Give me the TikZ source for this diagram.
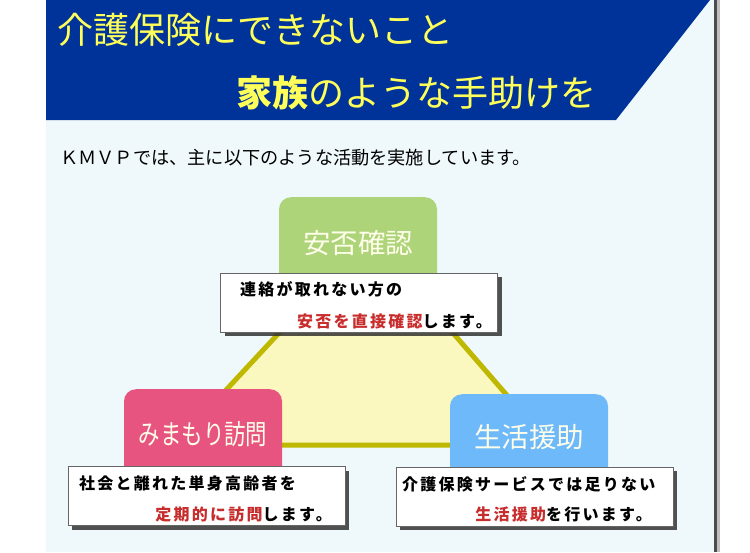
\documentclass[tikz,border=0pt]{standalone}
\usepackage{fontspec}
\usepackage{xcolor}
\usetikzlibrary{positioning,shadows}
\newfontfamily\jpfont{Noto Sans CJK JP}
\newfontfamily\notefont{Noto Sans CJK JP}[LetterSpace=14]
\definecolor{bannerclr}{RGB}{0,51,153}
\definecolor{panelbg}{RGB}{239,248,250}
\definecolor{headclr}{RGB}{255,255,90}
\definecolor{anpiclr}{RGB}{174,212,122}
\definecolor{mimaclr}{RGB}{232,84,128}
\definecolor{seikclr}{RGB}{110,185,250}
\definecolor{trifill}{RGB}{250,248,190}
\definecolor{triedge}{RGB}{190,185,0}
\definecolor{noteclr}{RGB}{200,45,45}
\tikzset{
  headtext/.style={inner sep=0pt, anchor=west, text=headclr,
    font=\jpfont\fontsize{36}{39}\selectfont},
  catbox/.style={rounded corners=12pt, minimum width=158pt, inner sep=0pt,
    text=white!92!yellow, font=\jpfont\fontsize{27.5}{30}\selectfont},
  notebox/.style={fill=white, draw=black!60, line width=0.6pt,
    minimum width=277pt, minimum height=59pt,
    drop shadow={shadow xshift=4pt, shadow yshift=-4pt, fill=black!80, opacity=0.85}},
  notetext/.style={inner sep=0pt, text=black,
    font=\notefont\bfseries\fontsize{16}{18}\selectfont},
  tri/.style={fill=trifill, draw=triedge, line width=5pt, line join=miter}
}
\begin{document}
\begin{tikzpicture}[x=1pt, y=-1pt]
  \useasboundingbox (0,0) rectangle (750,552);
  % panel and banner
  \fill[white] (0,0) rectangle (750,552);
  \fill[panelbg] (46,0) rectangle (715,552);
  \draw[black!25, line width=3pt] (718.5,0) -- (718.5,552);
  \draw[black!70, line width=2.5pt] (715.5,0) -- (715.5,552);
  \fill[bannerclr] (46,0) -- (710,0) -- (616,120) -- (46,120) -- cycle;
  \node[headtext] (headtop) at (57,30) {介護保険にできないこと};
  \node[headtext] (headbot) at (236,93) {{\bfseries 家族}のような手助けを};
  \node[anchor=west, inner sep=0pt, font=\jpfont\fontsize{18.2}{20}\selectfont]
    (intro) at (60,158) {ＫＭＶＰでは、主に以下のような活動を実施しています。};
  % triangle behind the boxes
  \coordinate (tritop) at (369,236);
  \coordinate (trileft) at (175,445);
  \coordinate (triright) at (550,445);
  \filldraw[tri] (tritop) -- (trileft) -- (triright) -- cycle;
  % category boxes
  \node[catbox, fill=anpiclr, minimum height=92pt, anchor=north] (anpi) at (358,197) {安否確認};
  \node[catbox, fill=mimaclr, minimum height=90pt, anchor=north] (mimamori) at (203,389)
    {\scalebox{0.78}[1]{みまもり訪問}};
  \node[catbox, fill=seikclr, minimum height=86pt, anchor=north] (seikatsu) at (529,394) {生活援助};
  % notes
  \node[notebox] (anpinote) at (359,302.5) {};
  \node[notetext, anchor=west] (anpione) at (240,289) {連絡が取れない方の};
  \node[notetext, anchor=east] (anpitwo) at (492,321) {{\color{noteclr}安否を直接確認}します。};
  \node[notebox] (mimanote) at (206.5,496) {};
  \node[notetext, anchor=west] (mimaone) at (79,483) {社会と離れた単身高齢者を};
  \node[notetext, anchor=east] (mimatwo) at (332,514) {{\color{noteclr}定期的に訪問}します。};
  \node[notebox] (seiknote) at (534.5,496.5) {};
  \node[notetext, anchor=west] (seikone) at (402,484) {介護保険サービスでは足りない};
  \node[notetext, anchor=east] (seiktwo) at (652,514) {{\color{noteclr}生活援助}を行います。};
\end{tikzpicture}
\end{document}
